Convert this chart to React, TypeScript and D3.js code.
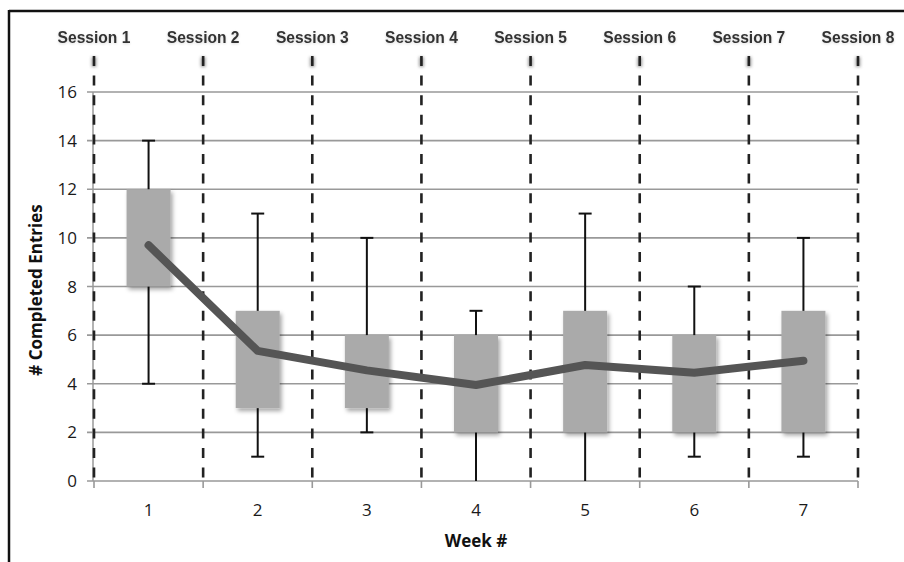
import React from "react";
import * as d3 from "d3";

const weeks = ["1", "2", "3", "4", "5", "6", "7"];
const sessions = ["Session 1", "Session 2", "Session 3", "Session 4", "Session 5", "Session 6", "Session 7", "Session 8"];
const boxLow = [8, 3, 3, 2, 2, 2, 2];
const boxHigh = [12, 7, 6, 6, 7, 6, 7];
const whiskerMin = [4, 1, 2, 0, 0, 1, 1];
const whiskerMax = [14, 11, 10, 7, 11, 8, 10];
const meanValues = [9.7, 5.35, 4.55, 3.95, 4.77, 4.45, 4.95];
const yTicks = [0, 2, 4, 6, 8, 10, 12, 14, 16];

export default function App() {
  const W = 904, H = 562;
  const left = 93, right = 858, top = 92, bottom = 481;
  const y = d3.scaleLinear().domain([0, 16]).range([bottom, top]);
  const x = d3.scaleBand().domain(weeks).range([left + 1, right]).paddingInner(0).paddingOuter(0);
  const bw = x.bandwidth();
  const sessionX = d3.scaleLinear().domain([0, 7]).range([left + 1, right]);
  const boxW = 44;
  const capW = 13;
  const line = d3.line<number>().x((_, i) => (x(weeks[i]) as number) + bw / 2).y((d) => y(d));
  const numFont = "'Open Sans', sans-serif";

  return (
    <svg width={W} height={H} style={{ position: "absolute", left: 0, top: 0, background: "#fff" }}>
      <defs>
        <filter id="shadow" x="-30%" y="-30%" width="160%" height="160%">
          <feDropShadow dx="2" dy="3" stdDeviation="2" floodColor="#000" floodOpacity="0.35" />
        </filter>
        <filter id="blur" x="-100%" y="-100%" width="300%" height="300%">
          <feGaussianBlur stdDeviation="1.6" />
        </filter>
        <filter id="glow" x="-10%" y="-30%" width="120%" height="160%">
          <feGaussianBlur in="SourceAlpha" stdDeviation="1.5" result="b" />
          <feOffset dy="1" in="b" result="o" />
          <feComponentTransfer in="o" result="c"><feFuncA type="linear" slope="0.15" /></feComponentTransfer>
          <feMerge><feMergeNode in="c" /><feMergeNode in="SourceGraphic" /></feMerge>
        </filter>
      </defs>
      {/* frame */}
      <line x1={9} x2={W} y1={11} y2={11} stroke="#111" strokeWidth={2.5} />
      <line x1={9} x2={9} y1={10} y2={H} stroke="#111" strokeWidth={2.5} />

      {/* horizontal gridlines */}
      {yTicks.map((t) => (
        <g key={t}>
          <line x1={87} x2={right} y1={y(t)} y2={y(t)} stroke="#999" strokeWidth={1.6} />
          <text x={77} y={y(t)} dy="0.36em" textAnchor="end" fontFamily={numFont} fontSize={17} fill="#1a1a1a">{t}</text>
        </g>
      ))}
      {/* y axis line */}
      <line x1={left} x2={left} y1={top} y2={bottom} stroke="#999" strokeWidth={1.5} />
      {/* x ticks */}
      {sessions.map((s, i) => (
        <line key={s} x1={sessionX(i)} x2={sessionX(i)} y1={bottom} y2={bottom + 7} stroke="#999" strokeWidth={1.6} />
      ))}

      {/* whiskers */}
      {weeks.map((w, i) => {
        const cx = (x(w) as number) + bw / 2;
        return (
          <g key={w} stroke="#111" strokeWidth={2}>
            <line x1={cx} x2={cx} y1={y(whiskerMax[i])} y2={y(whiskerMin[i])} />
            <line x1={cx - capW / 2} x2={cx + capW / 2} y1={y(whiskerMax[i])} y2={y(whiskerMax[i])} />
            {whiskerMin[i] > 0 && (
              <line x1={cx - capW / 2} x2={cx + capW / 2} y1={y(whiskerMin[i])} y2={y(whiskerMin[i])} />
            )}
          </g>
        );
      })}
      {/* boxes */}
      {weeks.map((w, i) => {
        const cx = (x(w) as number) + bw / 2;
        return (
          <rect key={w} x={cx - boxW / 2} y={y(boxHigh[i])} width={boxW} height={y(boxLow[i]) - y(boxHigh[i])} fill="#aaaaaa" filter="url(#shadow)" />
        );
      })}

      {/* dashed session lines */}
      {sessions.map((s, i) => (
        <g key={s}>
          <rect x={sessionX(i) - 2.5} y={57} width={5} height={10} fill="#666" filter="url(#blur)" opacity={0.6} />
          <line x1={sessionX(i)} x2={sessionX(i)} y1={56} y2={487} stroke="#222" strokeWidth={2.6} strokeDasharray="10,9.6" />
          <text x={sessionX(i)} y={43} textAnchor="middle" fontFamily="'Liberation Sans', Arial, sans-serif" fontWeight="bold" fontSize={15.6} fill="#333" filter="url(#glow)">{s}</text>
        </g>
      ))}

      {/* mean line */}
      <path d={line(meanValues) as string} fill="none" stroke="#555" strokeWidth={8} strokeLinejoin="round" strokeLinecap="round" />

      {/* x labels */}
      {weeks.map((w) => (
        <text key={w} x={(x(w) as number) + bw / 2} y={516} textAnchor="middle" fontFamily={numFont} fontSize={17} fill="#1a1a1a">{w}</text>
      ))}
      <text x={476} y={547} textAnchor="middle" fontFamily={numFont} fontWeight="bold" fontSize={17} fill="#111">Week #</text>
      <text transform={`translate(42,290) rotate(-90)`} textAnchor="middle" fontFamily={numFont} fontWeight="bold" fontSize={17} fill="#111">
        # Completed Entries
      </text>
    </svg>
  );
}
